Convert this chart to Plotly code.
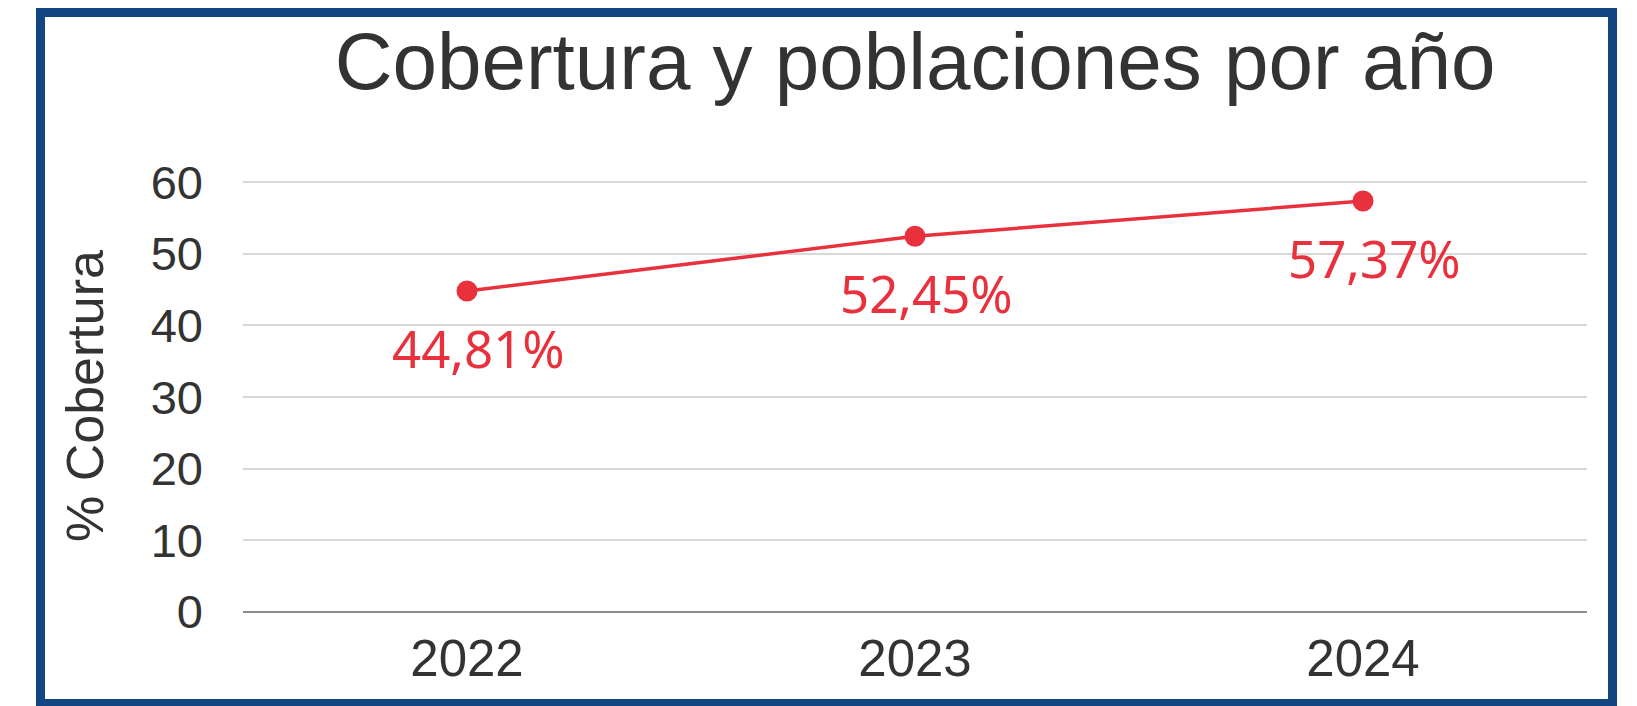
import plotly.graph_objects as go

years = ["2022", "2023", "2024"]
coverage = [44.81, 52.45, 57.37]
labels = ["44,81%", "52,45%", "57,37%"]
y_ticks = [0, 10, 20, 30, 40, 50, 60]

title_text = "Cobertura y poblaciones por año"
y_title = "% Cobertura"

RED = "#e8313c"
DARK = "#333333"
BLUE = "#134680"

W, H = 1637, 706
L, R, T, B = 243, 50, 180, 94
pw, ph = W - L - R, H - T - B

fig = go.Figure()
fig.add_trace(go.Scatter(
    x=years, y=coverage, mode="lines+markers",
    line=dict(color=RED, width=3.5),
    marker=dict(color=RED, size=21),
    hoverinfo="skip", showlegend=False, cliponaxis=False,
))

for i, (yv, lab) in enumerate(zip(coverage, labels)):
    fig.add_annotation(x=i, y=yv, xref="x", yref="y", text=lab, showarrow=False,
                       xshift=11, yshift=-57,
                       font=dict(family="Noto Sans", size=51, color=RED))

def px_x(p):
    return (p - L) / pw

def px_y(p):
    return (H - B - p) / ph

bw = 9
fig.add_shape(type="rect", xref="paper", yref="paper",
              x0=px_x(36 + bw / 2), x1=px_x(1617 - bw / 2),
              y0=px_y(708 - bw / 2), y1=px_y(8 + bw / 2),
              line=dict(color=BLUE, width=bw), fillcolor="rgba(0,0,0,0)",
              layer="above")

fig.update_layout(
    width=W, height=H,
    margin=dict(l=L, r=R, t=T, b=B, pad=0),
    paper_bgcolor="white", plot_bgcolor="white",
    title=dict(text=title_text, x=0.5, xref="paper", xanchor="center",
               y=1 - 61 / H, yref="container", yanchor="middle",
               font=dict(family="Liberation Sans", size=80, color=DARK)),
    xaxis=dict(type="category", range=[-0.5, 2.5], showgrid=False,
               showline=False, zeroline=False, ticks="",
               tickfont=dict(family="Liberation Sans", size=51, color=DARK),
               ticklabelstandoff=12),
    yaxis=dict(range=[0, 60.3], tickvals=y_ticks, showgrid=True,
               gridcolor="#d9d9d9", gridwidth=1.5, zeroline=True,
               zerolinecolor="#8c8c8c", zerolinewidth=1.5, showline=False,
               ticks="", tickfont=dict(family="Liberation Sans", size=47, color=DARK),
               ticklabelstandoff=39,
               title=dict(text=y_title, standoff=30,
                          font=dict(family="Liberation Sans", size=52, color=DARK))),
)

fig.write_html("out.html", config={"displayModeBar": False},
               post_script="document.body.style.margin='0';document.body.style.padding='0';window.dispatchEvent(new Event('resize'));")
